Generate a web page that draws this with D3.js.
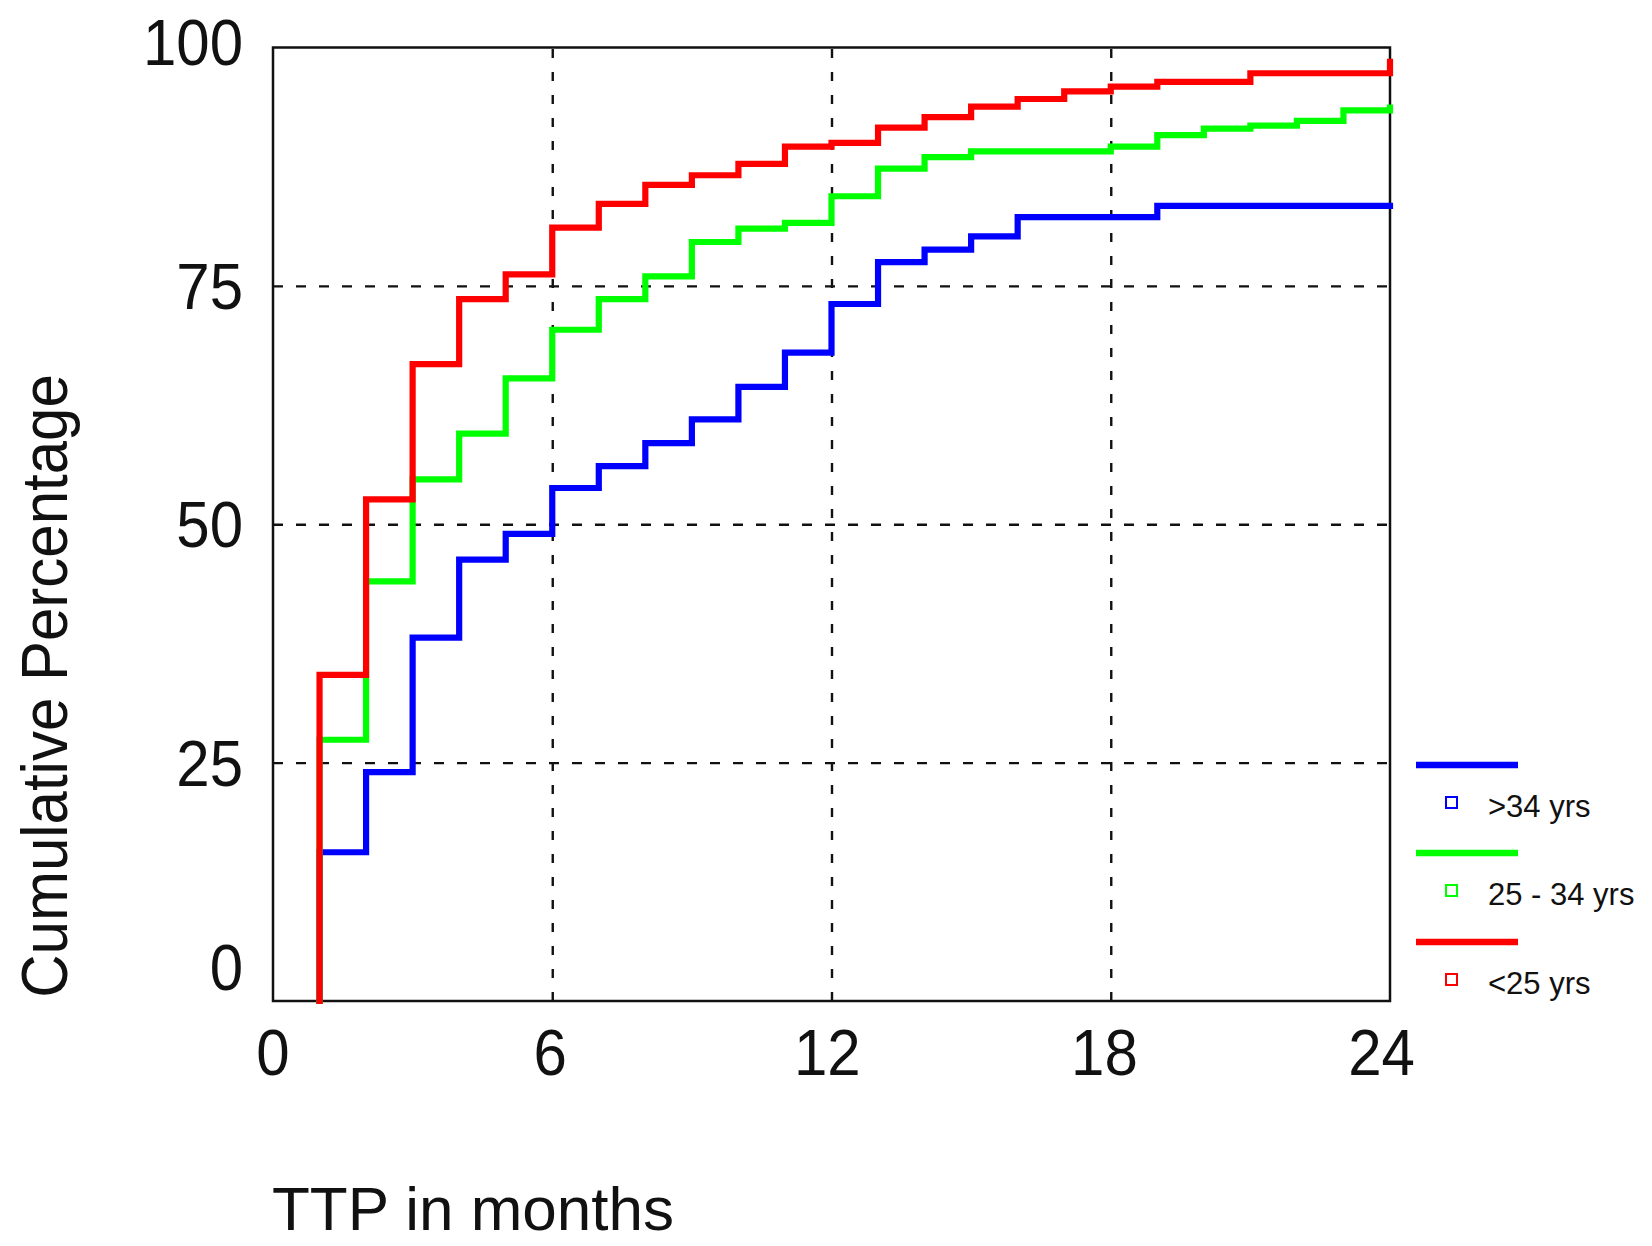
<!DOCTYPE html>
<html>
<head>
<meta charset="utf-8">
<script src="https://cdn.jsdelivr.net/npm/d3@7/dist/d3.min.js"></script>
<style>
  html, body { margin: 0; padding: 0; background: #fff; }
  svg { display: block; }
  text { font-family: "Liberation Sans", Arial, sans-serif; fill: #111; }
</style>
</head>
<body>
<svg id="chart" width="1652" height="1246"></svg>
<script>
// Time to progression (months) and cumulative percentage per age group
const months = [1, 2, 3, 4, 5, 6, 7, 8, 9, 10, 11, 12, 13, 14, 15, 16, 17, 18, 19, 20, 21, 22, 23, 24];
const over34 = [15.6, 24.0, 38.1, 46.3, 49.0, 53.8, 56.1, 58.5, 61.0, 64.4, 68.0, 73.1,
                77.5, 78.8, 80.2, 82.2, 82.2, 82.2, 83.4, 83.4, 83.4, 83.4, 83.4, 83.4];
const age25to34 = [27.4, 44.0, 54.7, 59.5, 65.3, 70.4, 73.6, 76.0, 79.6, 81.0, 81.6, 84.4,
                   87.3, 88.5, 89.1, 89.1, 89.1, 89.6, 90.8, 91.5, 91.8, 92.3, 93.4, 93.7];
const under25 = [34.2, 52.6, 66.8, 73.6, 76.2, 81.1, 83.6, 85.6, 86.6, 87.8, 89.6, 90.0,
                 91.6, 92.7, 93.8, 94.6, 95.4, 95.9, 96.4, 96.4, 97.3, 97.3, 97.3, 98.5];

const xTicks = [0, 6, 12, 18, 24];
const yTicks = [0, 25, 50, 75, 100];
const seriesNames = [">34 yrs", "25 - 34 yrs", "<25 yrs"];
const seriesColors = ["#0000ff", "#00ff00", "#ff0000"];
const seriesValues = [over34, age25to34, under25];

const svg = d3.select("#chart");
const plot = { left: 273, right: 1390, top: 47.5, bottom: 1001 };

const x = d3.scaleLinear().domain([0, 24]).range([plot.left, plot.right]);
const y = d3.scaleLinear().domain([0, 100]).range([plot.bottom, plot.top]);

// Dashed grid lines from the axis generators
const gridY = d3.axisLeft(y)
  .tickValues(yTicks.filter(v => v > 0 && v < 100))
  .tickSize(-(plot.right - plot.left))
  .tickFormat("");
svg.append("g")
  .attr("transform", `translate(${plot.left},0)`)
  .call(gridY)
  .call(g => g.select(".domain").remove())
  .call(g => g.selectAll("line")
    .attr("stroke", "#111").attr("stroke-width", 2.4)
    .attr("stroke-dasharray", "10,13"));

const gridX = d3.axisBottom(x)
  .tickValues(xTicks.filter(v => v > 0 && v < 24))
  .tickSize(-(plot.bottom - plot.top))
  .tickFormat("");
svg.append("g")
  .attr("transform", `translate(0,${plot.bottom})`)
  .call(gridX)
  .call(g => g.select(".domain").remove())
  .call(g => g.selectAll("line")
    .attr("stroke", "#111").attr("stroke-width", 2.4)
    .attr("stroke-dasharray", "9,14"));

// Plot frame
svg.append("rect")
  .attr("x", plot.left).attr("y", plot.top)
  .attr("width", plot.right - plot.left).attr("height", plot.bottom - plot.top)
  .attr("fill", "none").attr("stroke", "#111").attr("stroke-width", 2.5);

// Tick labels (end labels nudged so they don't collide at the corners)
const yLabel = svg.append("g").attr("class", "y-labels");
yTicks.forEach(v => {
  let cy = y(v);
  if (v === yTicks[yTicks.length - 1]) cy -= 6;
  if (v === yTicks[0]) cy -= 34;
  yLabel.append("text")
    .attr("transform", `translate(243,${cy}) scale(1,1.07)`)
    .attr("dy", "0.36em")
    .attr("text-anchor", "end")
    .attr("font-size", 60)
    .text(v);
});

const xLabel = svg.append("g").attr("class", "x-labels");
xTicks.forEach(v => {
  xLabel.append("text")
    .attr("transform", `translate(${x(v) - v * 0.35},1075) scale(1,1.07)`)
    .attr("text-anchor", "middle")
    .attr("font-size", 60)
    .text(v);
});

// Axis titles
svg.append("text")
  .attr("x", 272).attr("y", 1230)
  .attr("font-size", 62)
  .text("TTP in months");

svg.append("text")
  .attr("transform", "translate(67,686) rotate(-90) scale(1,1.07)")
  .attr("text-anchor", "middle")
  .attr("font-size", 60)
  .text("Cumulative Percentage");

// Step curves: each starts from 0 at the first month
const line = d3.line()
  .x(d => x(d[0]))
  .y(d => y(d[1]))
  .curve(d3.curveStepAfter);

seriesValues.forEach((vals, i) => {
  const pts = [[months[0], 0]].concat(months.map((m, j) => [m, vals[j]]));
  svg.append("path")
    .datum(pts)
    .attr("d", line)
    .attr("fill", "none")
    .attr("stroke", seriesColors[i])
    .attr("stroke-width", 6.2)
    .attr("stroke-linejoin", "miter")
    .attr("stroke-linecap", "square");
});

// Legend
const legend = svg.append("g").attr("class", "legend");
const legendRowY = [765, 853, 942];
seriesNames.forEach((name, i) => {
  const ly = legendRowY[i];
  legend.append("line")
    .attr("x1", 1416).attr("x2", 1518)
    .attr("y1", ly).attr("y2", ly)
    .attr("stroke", seriesColors[i]).attr("stroke-width", 6.5);
  legend.append("rect")
    .attr("x", 1446).attr("y", ly + 32)
    .attr("width", 11).attr("height", 11)
    .attr("fill", "#fff")
    .attr("stroke", seriesColors[i]).attr("stroke-width", 2);
  legend.append("text")
    .attr("x", 1488).attr("y", ly + 52)
    .attr("font-size", 31)
    .attr("fill", "#222")
    .text(name);
});
</script>
</body>
</html>
